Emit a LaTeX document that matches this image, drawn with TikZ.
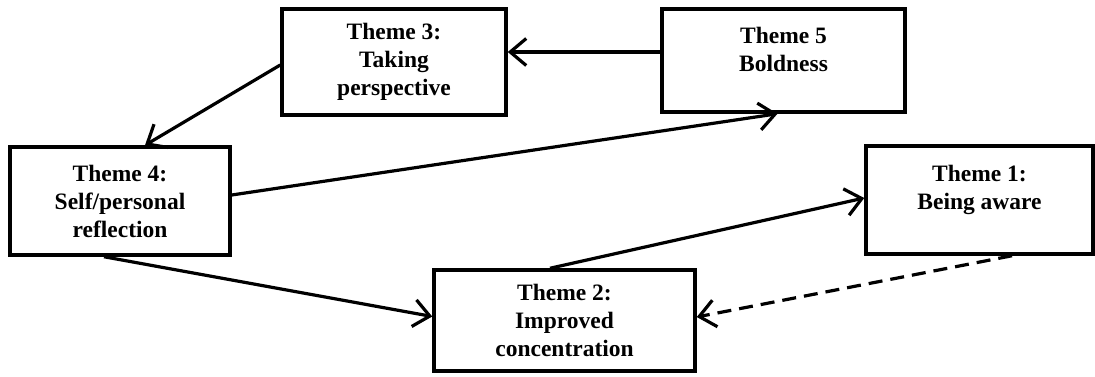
\documentclass[tikz,border=0pt]{standalone}
\usepackage{fontspec}
\setmainfont{Liberation Serif}
\usetikzlibrary{arrows.meta,calc}
\begin{document}
\begin{tikzpicture}[x=1pt,y=-1pt,
  box/.style={draw,line width=3.5pt,rectangle,inner sep=0pt},
  txt/.style={align=center,font=\fontsize{23.5}{28}\selectfont\bfseries,inner sep=0pt},
  conn/.style={line width=3.2pt,-{Straight Barb[length=16pt,width=27pt]}},
  dashconn/.style={conn,dash pattern=on 14pt off 8pt}]
\useasboundingbox (0,0) rectangle (1095,377);
\node[box,minimum width=224pt,minimum height=106pt,txt] (t3) at (394,62) {Theme 3:\\Taking\\perspective};
\node[box,minimum width=243pt,minimum height=103pt] (t5) at (783.5,60.5) {};
\node[txt] (t5t) at ([yshift=11pt]t5.center) {Theme 5\\Boldness};
\node[box,minimum width=220pt,minimum height=108pt,txt] (t4) at (120,201) {Theme 4:\\Self/personal\\reflection};
\node[box,minimum width=227pt,minimum height=108pt] (t1) at (979.5,200) {};
\node[txt] (t1t) at ([yshift=10pt]t1.center) {Theme 1:\\Being aware};
\node[box,minimum width=261pt,minimum height=101pt,txt] (t2) at (564.5,320.5) {Theme 2:\\Improved\\concentration};
\draw[conn] ([yshift=8.5pt]t5.west) -- ([yshift=10pt]t3.east);
\draw[conn] ([yshift=-3pt]t3.west) -- ([xshift=25pt]t4.north);
\draw[conn] ([yshift=6pt]t4.east) -- ([xshift=-6pt]t5.south);
\draw[conn] ([xshift=-16pt]t4.south) -- ([yshift=4pt]t2.west);
\draw[conn] ([xshift=-14.5pt]t2.north) -- ([yshift=2pt]t1.west);
\draw[dashconn] ([xshift=32.5pt]t1.south) -- ([yshift=3.5pt]t2.east);
\end{tikzpicture}
\end{document}
